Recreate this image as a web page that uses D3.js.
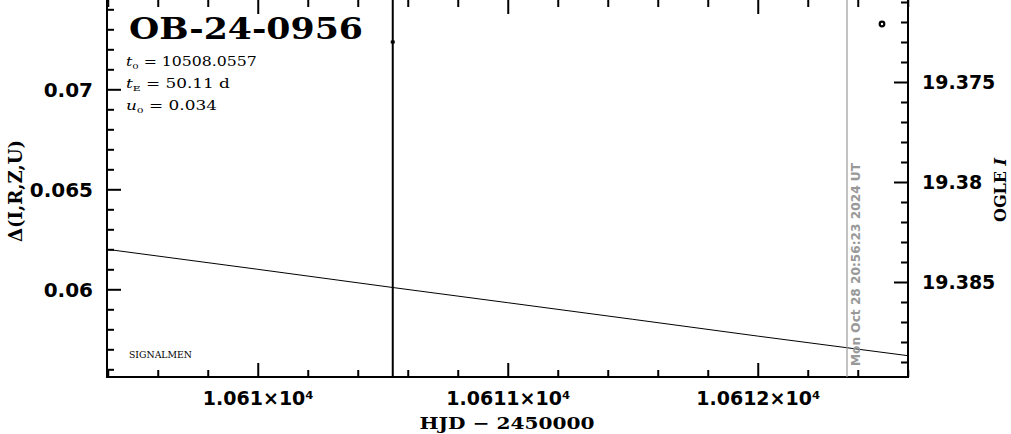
<!DOCTYPE html>
<html>
<head>
<meta charset="utf-8">
<script src="https://cdn.jsdelivr.net/npm/d3@7"></script>
<style>
html,body{margin:0;padding:0;background:#fff;}
svg{display:block;}
</style>
</head>
<body>
<svg id="chart" width="1011" height="434"></svg>
<script>
// ---------- data ----------
const title = "OB-24-0956";
const paramLabels = [["t","0"," = 10508.0557"],["t","E"," = 50.11 d"],["u","0"," = 0.034"]];
const xMajorTicks = [10610, 10611, 10612];
const xDomain = [10609.397, 10612.601];
const leftDomain = [0.055615, 0.074515];
const leftMajorTicks = [0.06, 0.065, 0.07];
const rightDomain = [19.38975, 19.37085];
const rightMajorTicks = [19.375, 19.38, 19.385];
// model curve Δ(I,R,Z,U) vs HJD-2450000
const modelT = [10609.397, 10610.0, 10610.54, 10611.0, 10611.5, 10612.0, 10612.601];
const modelV = [0.06200, 0.06100, 0.06009, 0.05933, 0.05850, 0.05766, 0.05668];
// OGLE I observations (time, mag, error)
const obsT = [10610.54];
const obsMag = [19.3730];
const obsErr = [0.05];
const extraT = [10612.497];
const extraMag = [19.3721];
const nowT = 10612.357;
const nowLabel = "Mon Oct 28 20:56:23 2024 UT";
const xLabel = "HJD \u2212 2450000";
const leftLabel = "\u0394(I,R,Z,U)";
const footer = "SIGNALMEN";

// ---------- layout ----------
const W = 1011, H = 434;
const L = 107, R = 908, T = -1, B = 377;
const svg = d3.select("#chart");
const sans = "'DejaVu Sans', sans-serif";
const serif = "'DejaVu Serif', serif";

const x = d3.scaleLinear().domain(xDomain).range([L, R]);
const yL = d3.scaleLinear().domain(leftDomain).range([B, T]);
const yR = d3.scaleLinear().domain(rightDomain).range([B, T]);

const xMinor = d3.range(10609.4, 10612.61, 0.2).map(v => +v.toFixed(1)).filter(v => !xMajorTicks.includes(v));
const lMinor = d3.range(0.056, 0.0745, 0.001).map(v => +v.toFixed(3)).filter(v => !leftMajorTicks.includes(v));
const rMinor = d3.range(19.371, 19.3898, 0.001).map(v => +v.toFixed(3)).filter(v => !rightMajorTicks.includes(v));

// clip
svg.append("defs").append("clipPath").attr("id","clip")
  .append("rect").attr("x",L).attr("y",T).attr("width",R-L).attr("height",B-T);

function styleAxis(g){
  g.select(".domain").remove();
  g.selectAll(".tick line").attr("stroke","#000").attr("stroke-width",2);
}

// bottom axis
const gB = svg.append("g").attr("transform",`translate(0,${B})`)
  .call(d3.axisBottom(x).tickValues(xMajorTicks).tickSize(-14)
    .tickFormat(d => (d/1e4).toString() + "\u00d710\u2074"));
styleAxis(gB);
gB.selectAll(".tick text").attr("y",28).attr("dy",0)
  .attr("font-family",sans).attr("font-weight","bold").attr("font-size",19).attr("fill","#000");
svg.append("g").attr("transform",`translate(0,${B})`)
  .call(d3.axisBottom(x).tickValues(xMinor).tickSize(-7).tickFormat(""))
  .call(styleAxis);

// top axis (ticks only)
svg.append("g").attr("transform",`translate(0,${T})`)
  .call(d3.axisTop(x).tickValues(xMajorTicks).tickSize(-15).tickFormat(""))
  .call(styleAxis);
svg.append("g").attr("transform",`translate(0,${T})`)
  .call(d3.axisTop(x).tickValues(xMinor).tickSize(-8).tickFormat(""))
  .call(styleAxis);

// left axis
const gL = svg.append("g").attr("transform",`translate(${L},0)`)
  .call(d3.axisLeft(yL).tickValues(leftMajorTicks).tickSize(-14).tickFormat(d3.format("")));
styleAxis(gL);
gL.selectAll(".tick text").attr("x",-14).attr("dy","0.36em")
  .attr("font-family",sans).attr("font-weight","bold").attr("font-size",20).attr("fill","#000");
svg.append("g").attr("transform",`translate(${L},0)`)
  .call(d3.axisLeft(yL).tickValues(lMinor).tickSize(-7).tickFormat(""))
  .call(styleAxis);

// right axis
const gR = svg.append("g").attr("transform",`translate(${R},0)`)
  .call(d3.axisRight(yR).tickValues(rightMajorTicks).tickSize(-14).tickFormat(d3.format("")));
styleAxis(gR);
gR.selectAll(".tick text").attr("x",14).attr("dy","0.36em")
  .attr("font-family",sans).attr("font-weight","bold").attr("font-size",19).attr("fill","#000");
svg.append("g").attr("transform",`translate(${R},0)`)
  .call(d3.axisRight(yR).tickValues(rMinor).tickSize(-7).tickFormat(""))
  .call(styleAxis);

// frame
svg.append("rect").attr("x",L).attr("y",T).attr("width",R-L).attr("height",B-T)
  .attr("fill","none").attr("stroke","#000").attr("stroke-width",2);

const plot = svg.append("g").attr("clip-path","url(#clip)");

// model curve
plot.append("path")
  .datum(modelT.map((t,i)=>[t,modelV[i]]))
  .attr("fill","none").attr("stroke","#000").attr("stroke-width",1)
  .attr("d", d3.line().x(d=>x(d[0])).y(d=>yL(d[1])));

// observation error bars + points
obsT.forEach((t,i)=>{
  plot.append("line").attr("x1",x(t)).attr("x2",x(t))
    .attr("y1",yR(obsMag[i]-obsErr[i])).attr("y2",yR(obsMag[i]+obsErr[i]))
    .attr("stroke","#000").attr("stroke-width",2);
  plot.append("rect").attr("x",x(t)-2).attr("y",yR(obsMag[i])-1.5)
    .attr("width",4).attr("height",3).attr("fill","#000");
});
extraT.forEach((t,i)=>{
  plot.append("circle").attr("cx",x(t)).attr("cy",yR(extraMag[i])).attr("r",2.3)
    .attr("fill","none").attr("stroke","#000").attr("stroke-width",2.2);
});

// now line
plot.append("line").attr("x1",x(nowT)).attr("x2",x(nowT)).attr("y1",T).attr("y2",B)
  .attr("stroke","#999").attr("stroke-width",1.2);
svg.append("text")
  .attr("transform",`translate(${x(nowT)+12.5},366) rotate(-90)`)
  .attr("font-family",sans).attr("font-weight","bold").attr("font-size",11.5)
  .attr("fill","#999").attr("textLength",203).attr("lengthAdjust","spacingAndGlyphs")
  .text(nowLabel);

// title
svg.append("text").attr("x",129).attr("y",39)
  .attr("font-family",serif).attr("font-weight","bold").attr("font-size",29)
  .attr("textLength",234).attr("lengthAdjust","spacingAndGlyphs")
  .text(title);

// parameters
const pY = [66, 88, 110];
const pW = [131, 104, 91];
paramLabels.forEach((p,i)=>{
  const t = svg.append("text").attr("x",126).attr("y",pY[i])
    .attr("font-family",serif).attr("font-size",12.5).attr("fill","#000");
  t.append("tspan").attr("font-style","italic").text(p[0]);
  t.append("tspan").attr("font-size",8).attr("dy",3).text(p[1]);
  t.append("tspan").attr("dy",-3).text(p[2]);
  const bb = t.node().getComputedTextLength();
  t.attr("transform",`translate(126,0) scale(${pW[i]/bb},1) translate(-126,0)`);
});

// footer
svg.append("text").attr("x",129).attr("y",358)
  .attr("font-family",serif).attr("font-size",8.5)
  .attr("textLength",63).attr("lengthAdjust","spacingAndGlyphs")
  .text(footer);

// axis labels
svg.append("text").attr("x",507).attr("y",429).attr("text-anchor","middle")
  .attr("font-family",serif).attr("font-weight","bold").attr("font-size",17)
  .attr("textLength",175).attr("lengthAdjust","spacingAndGlyphs")
  .text(xLabel);
svg.append("text").attr("transform","translate(22,191) rotate(-90)").attr("text-anchor","middle")
  .attr("font-family",serif).attr("font-weight","bold").attr("font-size",18)
  .attr("textLength",102).attr("lengthAdjust","spacingAndGlyphs")
  .text(leftLabel);
const rl = svg.append("text").attr("transform","translate(1006,190) rotate(-90)").attr("text-anchor","middle")
  .attr("font-family",serif).attr("font-weight","bold").attr("font-size",16);
rl.append("tspan").text("OGLE ");
rl.append("tspan").attr("font-style","italic").text("I");
</script>
</body>
</html>
